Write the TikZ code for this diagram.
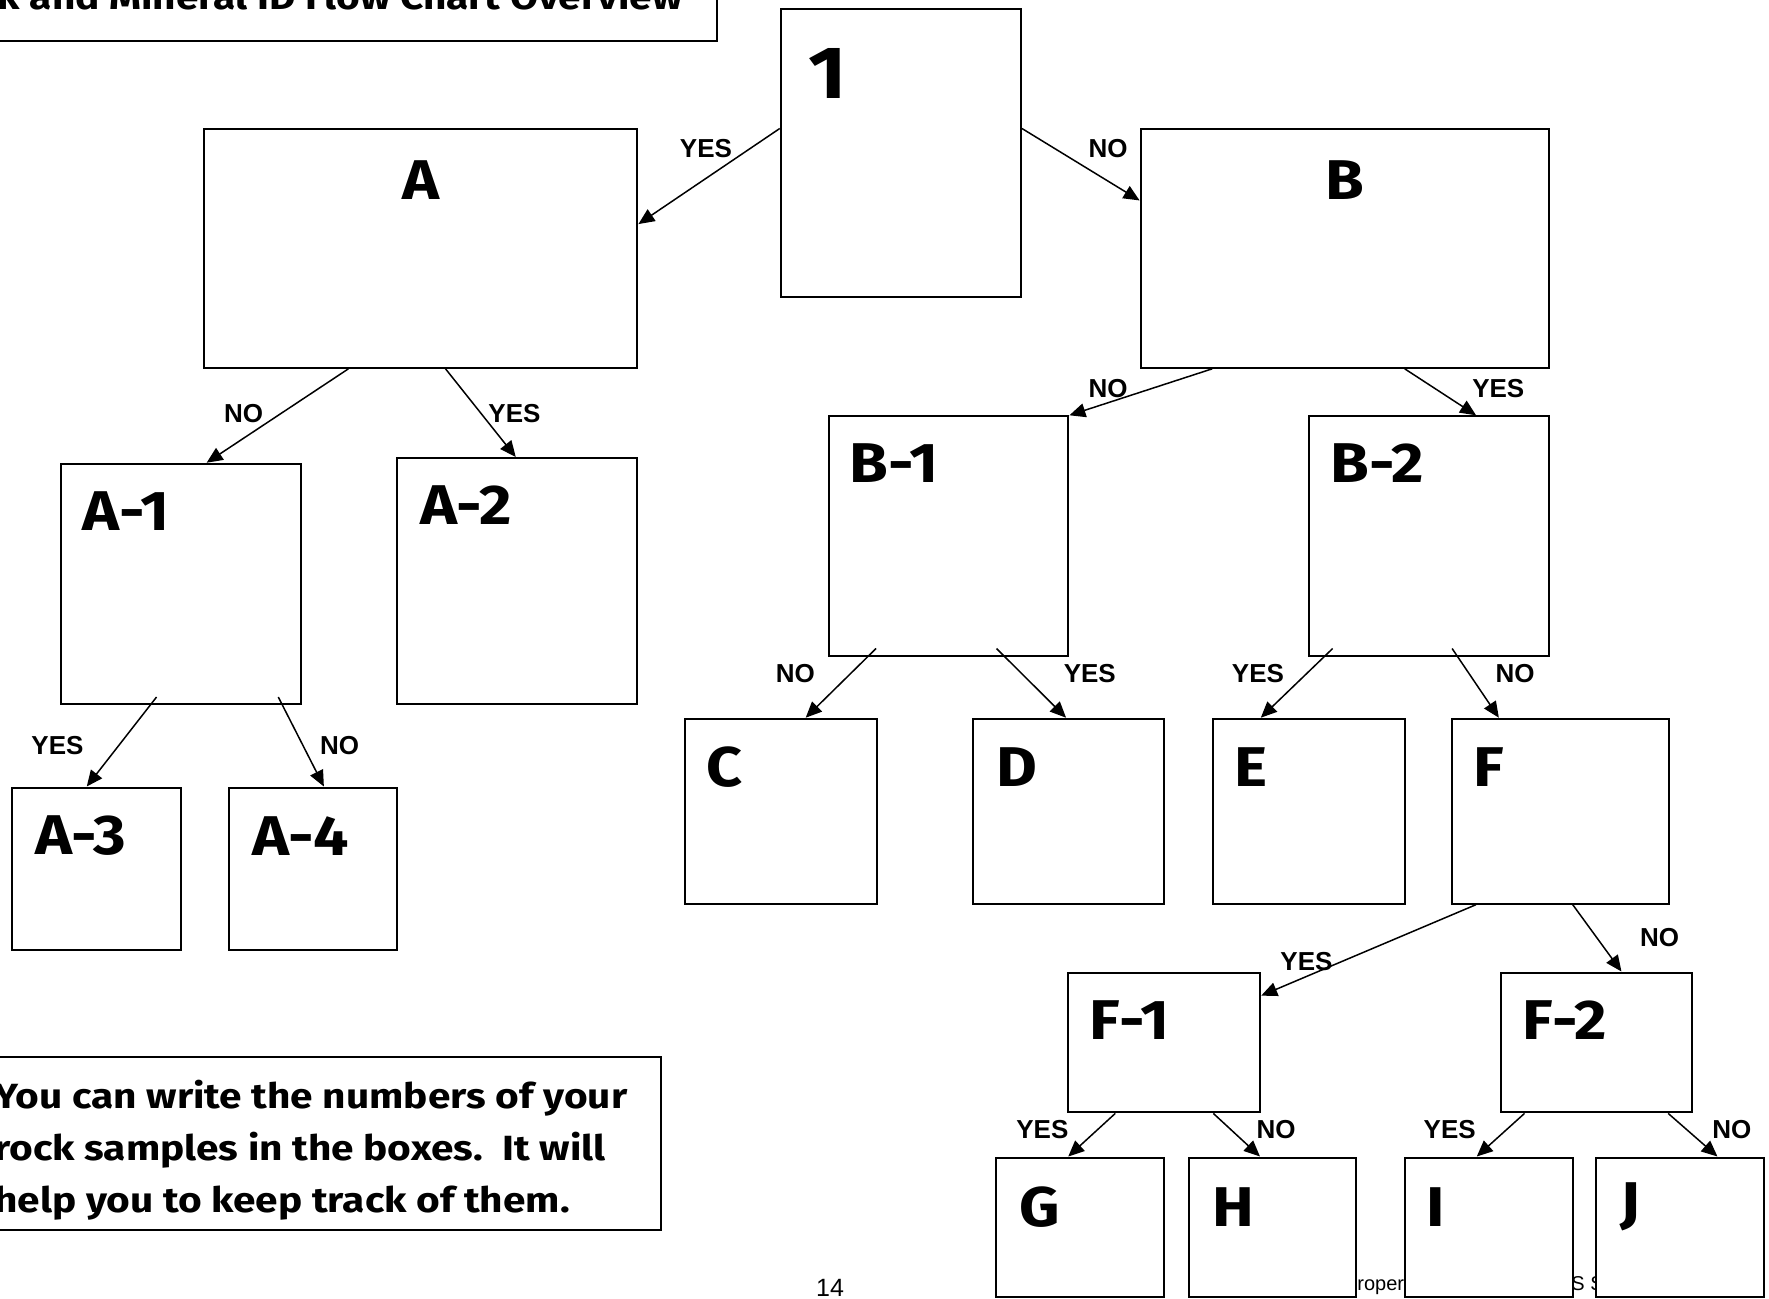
\documentclass[tikz,border=0pt]{standalone}
\usepackage{fontspec}
\setmainfont{Liberation Sans}
\newfontfamily\comic{Fira Sans}[FakeStretch=1.12]
\newfontfamily\comicw{Fira Sans}[FakeStretch=1.16]
\usetikzlibrary{arrows.meta,calc,fit}
\begin{document}
\begin{tikzpicture}[x=0.5pt,y=-0.5pt,
  box/.style={draw,line width=1pt,fill=white,inner sep=0pt},
  lab/.style={font=\comic\bfseries\fontsize{28}{32}\selectfont,anchor=west,inner sep=0pt},
  yn/.style={font=\bfseries\fontsize{13}{15}\selectfont,inner sep=0pt},
  foot/.style={font=\fontsize{10}{12}\selectfont,inner sep=0pt},
  arr/.style={line width=0.75pt,-{Triangle[length=8pt,width=7pt]}}]
\path[use as bounding box,fill=white] (0,0) rectangle (1769,1298);
\clip (0,0) rectangle (1769,1298);
% title
\node[box,fit={(-10,-60) (717,40.6)}] (titlebox) {};
\node[font=\comicw\bfseries\fontsize{17.5}{20}\selectfont,anchor=base east,inner sep=0pt] (title) at (683,9) {Rock and Mineral ID Flow Chart Overview};
% footer fragments
\node[foot,anchor=base west] (foot1) at (1357,1290) {roper};
\node[foot,anchor=base west] (foot2) at (1571,1290) {S S};
\node[font=\fontsize{12.5}{14}\selectfont,inner sep=0pt,anchor=base] (page) at (830,1296) {14};
% boxes
\node[box,fit={(780.7,9) (1021,296.7)}] (n1) {};
\node[box,fit={(204,128.6) (637.4,367.8)}] (A) {};
\node[box,fit={(1140.6,128.6) (1549,367.8)}] (B) {};
\node[box,fit={(61,463.7) (301,704)}] (A1) {};
\node[box,fit={(397,458) (637.4,704)}] (A2) {};
\node[box,fit={(12.4,787.5) (180.5,950)}] (A3) {};
\node[box,fit={(229,787.5) (397,950)}] (A4) {};
\node[box,fit={(829,416.3) (1068.4,655.5)}] (B1) {};
\node[box,fit={(1308.7,416.3) (1549,655.5)}] (B2) {};
\node[box,fit={(684.8,718.7) (876.6,903.7)}] (C) {};
\node[box,fit={(972.5,718.7) (1164.3,903.7)}] (D) {};
\node[box,fit={(1212.8,718.7) (1404.6,903.7)}] (E) {};
\node[box,fit={(1452,718.7) (1668.6,903.7)}] (F) {};
\node[box,fit={(1068.4,972.5) (1260.2,1112.4)}] (F1) {};
\node[box,fit={(1500.5,972.5) (1692.4,1112.4)}] (F2) {};
\node[box,fit={(996,1157.5) (1164.3,1297)}] (G) {};
\node[box,fit={(1189,1157.5) (1356,1297)}] (H) {};
\node[box,fit={(1404.6,1157.5) (1572.7,1297)}] (I) {};
\node[box,fit={(1596.4,1157.5) (1764.4,1297)}] (J) {};
% note
\node[box,fit={(-10,1057) (661,1229.7)}] (note) {};
\node[font=\comicw\bfseries\fontsize{17.5}{26}\selectfont,anchor=west,align=left,inner sep=0pt] (notetxt) at (-6,1150)
 {You can write the numbers of your\\rock samples in the boxes.\ \ It will\\help you to keep track of them.};
% box labels
\node[lab,font=\comic\bfseries\fontsize{37}{40}\selectfont] (l1) at (807.8,73.3) {1};
\node[lab,anchor=center] (lA) at (420.8,180.5) {A};
\node[lab,anchor=center] (lB) at (1344.8,180.5) {B};
\node[lab] (lA1) at (82.4,511) {A-1};
\node[lab] (lA2) at (419.7,505.4) {A-2};
\node[lab] (lA3) at (35,836) {A-3};
\node[lab] (lA4) at (251.6,836) {A-4};
\node[lab] (lB1) at (849.5,462.6) {B-1};
\node[lab] (lB2) at (1330,462.6) {B-2};
\node[lab] (lC) at (706,767.2) {C};
\node[lab] (lD) at (996.2,767.2) {D};
\node[lab] (lE) at (1234.3,767.2) {E};
\node[lab] (lF) at (1473.4,767.2) {F};
\node[lab] (lF1) at (1088.7,1019.9) {F-1};
\node[lab] (lF2) at (1522,1019.9) {F-2};
\node[lab] (lG) at (1018.8,1207.2) {G};
\node[lab] (lH) at (1211.7,1207.2) {H};
\node[lab] (lI) at (1426,1207.2) {I};
\node[lab] (lJ) at (1620,1207.2) {J};
% connectors
\draw[arr] ($(n1.north west)!0.416!(n1.south west)$) -- ($(A.north east)!0.40!(A.south east)$);
\draw[arr] ($(n1.north east)!0.416!(n1.south east)$) -- ($(B.north west)!0.302!(B.south west)$);
\draw[arr] ($(A.south west)!0.334!(A.south east)$) -- ($(A1.north west)!0.606!(A1.north east)$);
\draw[arr] ($(A.south west)!0.557!(A.south east)$) -- ($(A2.north west)!0.494!(A2.north east)$);
\draw[arr] ($(A1.south west)!0.399!(A1.south east)+(0,-8)$) -- ($(A3.north west)!0.443!(A3.north east)$);
\draw[arr] ($(A1.south west)!0.902!(A1.south east)+(0,-8)$) -- ($(A4.north west)!0.564!(A4.north east)$);
\draw[arr] ($(B.south west)!0.177!(B.south east)$) -- (B1.north east);
\draw[arr] ($(B.south west)!0.646!(B.south east)$) -- ($(B2.north west)!0.695!(B2.north east)$);
\draw[arr] ($(B1.south west)!0.199!(B1.south east)+(0,-8)$) -- ($(C.north west)!0.629!(C.north east)$);
\draw[arr] ($(B1.south west)!0.698!(B1.south east)+(0,-8)$) -- ($(D.north west)!0.488!(D.north east)$);
\draw[arr] ($(B2.south west)!0.103!(B2.south east)+(0,-8)$) -- ($(E.north west)!0.253!(E.north east)$);
\draw[arr] ($(B2.south west)!0.596!(B2.south east)+(0,-8)$) -- ($(F.north west)!0.219!(F.north east)$);
\draw[arr] ($(F.south west)!0.114!(F.south east)$) -- ($(F1.north east)!0.17!(F1.south east)$);
\draw[arr] ($(F.south west)!0.557!(F.south east)$) -- ($(F2.north west)!0.629!(F2.north east)$);
\draw[arr] ($(F1.south west)!0.247!(F1.south east)$) -- ($(G.north west)!0.43!(G.north east)$);
\draw[arr] ($(F1.south west)!0.753!(F1.south east)$) -- ($(H.north west)!0.426!(H.north east)$);
\draw[arr] ($(F2.south west)!0.129!(F2.south east)$) -- ($(I.north west)!0.43!(I.north east)$);
\draw[arr] ($(F2.south west)!0.87!(F2.south east)$) -- ($(J.north west)!0.718!(J.north east)$);
% YES / NO labels
\node[yn] (y1) at (706,149) {YES};
\node[yn] (n1l) at (1108,149) {NO};
\node[yn] (nA) at (243.7,414) {NO};
\node[yn] (yA) at (514.5,414) {YES};
\node[yn] (yA1) at (57.5,745.7) {YES};
\node[yn] (nA1) at (339.6,745.7) {NO};
\node[yn] (nB) at (1108,389) {NO};
\node[yn] (yB) at (1498.3,389) {YES};
\node[yn] (nB1) at (795.4,673.5) {NO};
\node[yn] (yB1) at (1089.8,673.5) {YES};
\node[yn] (yB2) at (1258,673.5) {YES};
\node[yn] (nB2) at (1515,673.5) {NO};
\node[yn] (yF) at (1306.5,961.2) {YES};
\node[yn] (nF) at (1659.5,937.5) {NO};
\node[yn] (yF1) at (1042.4,1129.3) {YES};
\node[yn] (nF1) at (1276,1129.3) {NO};
\node[yn] (yF2) at (1449.7,1129.3) {YES};
\node[yn] (nF2) at (1731.8,1129.3) {NO};
\end{tikzpicture}
\end{document}
